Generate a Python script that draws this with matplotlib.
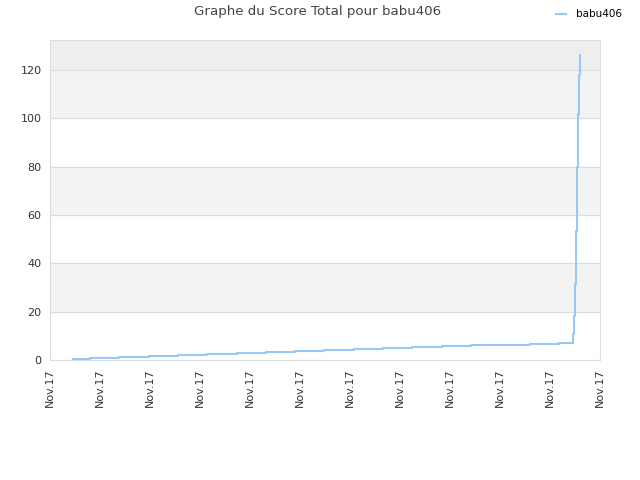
import matplotlib
matplotlib.use('Agg')
import matplotlib.pyplot as plt

# score steps (x in tick units: 0 .. 11, one tick per "Nov.17" label)
step_x = [0.46, 0.80, 1.38, 1.98, 2.56, 3.14, 3.74, 4.32, 4.90, 5.48,
          6.08, 6.66, 7.24, 7.84, 8.42, 9.00, 9.60, 10.18,
          10.46, 10.48, 10.50, 10.52, 10.54, 10.56, 10.58, 10.60]
step_y = [0.4, 0.8, 1.2, 1.6, 2.0, 2.4, 2.8, 3.2, 3.6, 4.0,
          4.4, 4.8, 5.2, 5.6, 6.0, 6.4, 6.8, 7.2,
          10.8, 18.3, 31.5, 53.4, 80.0, 101.8, 118.0, 126.3]
tick_labels = ['Nov.17'] * 12
y_ticks = [0, 20, 40, 60, 80, 100, 120]
player = 'babu406'

fig = plt.figure(figsize=(6.4, 4.8), dpi=100)
ax = fig.add_axes([50/640, 120/480, 550/640, 320/480])

ymax = 132.4
# alternating background bands
for lo, hi in [(20, 40), (60, 80), (100, 120)]:
    ax.axhspan(lo, hi, color='#f3f3f3', zorder=0)
ax.axhspan(120, ymax, color='#eeeeee', zorder=0)

ax.step(step_x, step_y, where='post', color='#99c8f5', lw=1.5,
        label=player, zorder=3)

ax.set_xlim(0, 11)
ax.set_ylim(0, ymax)
ax.set_xticks(range(12))
ax.set_xticklabels(tick_labels, rotation=90, fontsize=8, color='#333333')
ax.set_yticks(y_ticks)
ax.set_yticklabels([str(v) for v in y_ticks], fontsize=8, color='#333333')
ax.yaxis.grid(True, color='#dddddd', lw=0.8)
ax.set_axisbelow(True)
ax.tick_params(length=0, pad=6)
for s in ax.spines.values():
    s.set_color('#dddddd')

fig.text(318/640, 1 - 12/480, 'Graphe du Score Total pour babu406',
         ha='center', va='center', fontsize=9.6, color='#444444')
fig.legend(loc='upper right', bbox_to_anchor=(0.986, 1.0), frameon=False,
           fontsize=7.5, handlelength=1.0, handletextpad=0.9)

fig.savefig('out.png')
